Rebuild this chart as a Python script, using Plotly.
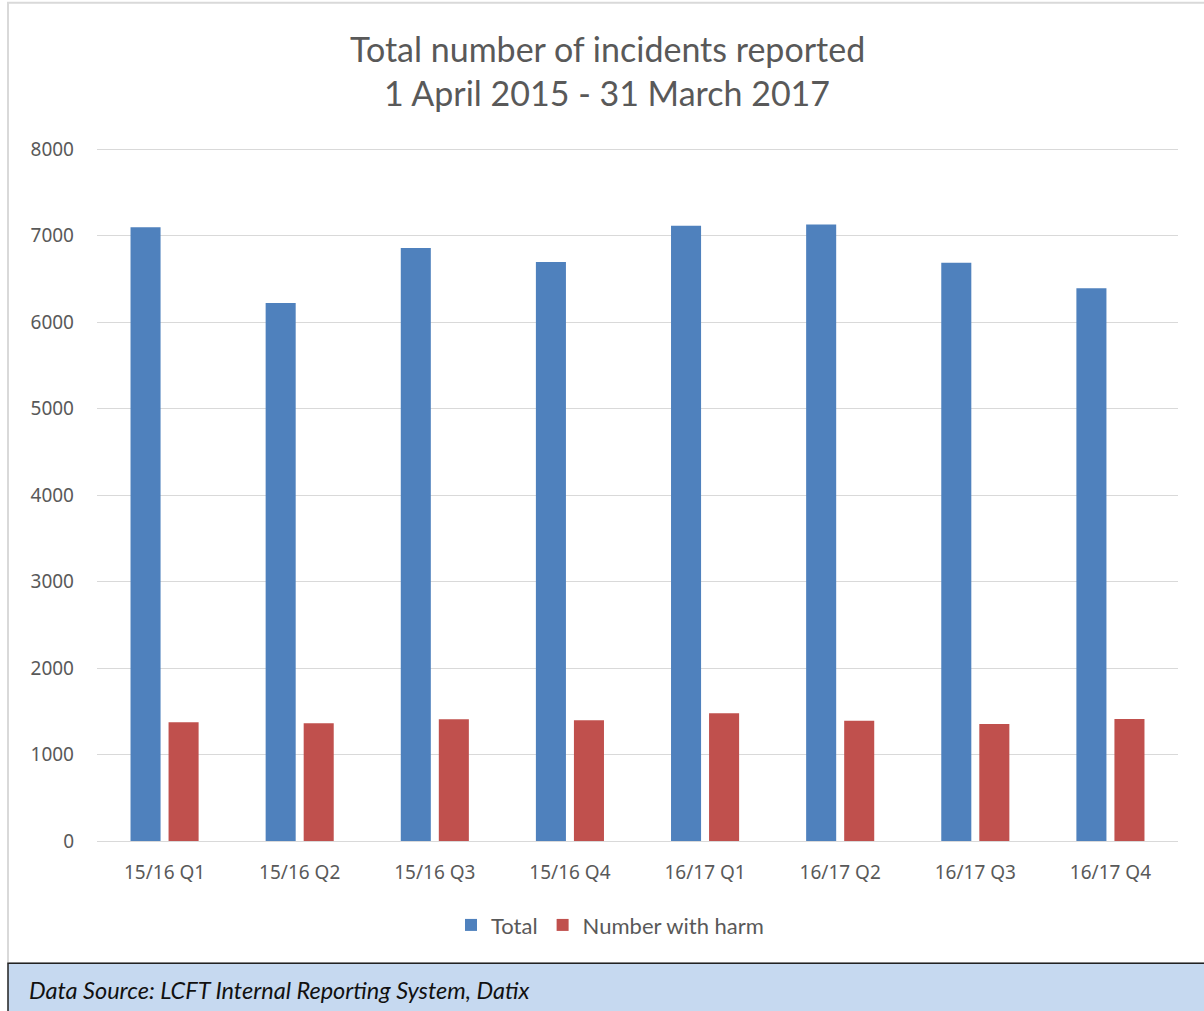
import plotly.graph_objects as go

categories = ["15/16 Q1", "15/16 Q2", "15/16 Q3", "15/16 Q4",
              "16/17 Q1", "16/17 Q2", "16/17 Q3", "16/17 Q4"]
total = [7095, 6220, 6855, 6694, 7113, 7129, 6686, 6390]
with_harm = [1372, 1360, 1407, 1395, 1476, 1391, 1353, 1410]
y_ticks = [0, 1000, 2000, 3000, 4000, 5000, 6000, 7000, 8000]

W, H = 1204, 1011
L, R, T, B = 97, 1178, 149, 841
pw, ph = R - L, B - T

def px(x):
    return (x - L) / pw

def py(y):
    return (B - y) / ph

fig = go.Figure()
fig.add_trace(go.Bar(x=categories, y=total, name="Total",
                     marker=dict(color="#4F81BD", line=dict(width=0))))
fig.add_trace(go.Bar(x=categories, y=with_harm, name="Number with harm",
                     marker=dict(color="#C0504D", line=dict(width=0))))

grey = "#595959"
fig.update_layout(
    width=W, height=H,
    margin=dict(l=L, r=W - R, t=T - 1, b=H - B, pad=0),
    paper_bgcolor="white", plot_bgcolor="white",
    barmode="group", bargap=0.437, bargroupgap=0.21,
    showlegend=True,
    legend=dict(orientation="h", x=px(610), xanchor="center",
                y=py(925), yanchor="middle",
                font=dict(family="Lato", size=22, color=grey),
                itemwidth=30, tracegroupgap=0),
    font=dict(family="Noto Sans", color=grey),
)
fig.update_yaxes(range=[0, 8012], tickvals=y_ticks,
                 ticktext=[str(v) for v in y_ticks],
                 showgrid=True, gridcolor="#D9D9D9", gridwidth=1,
                 zeroline=False, showline=False, ticks="",
                 tickfont=dict(family="Noto Sans", size=19, color=grey),
                 ticklabelstandoff=22, fixedrange=True)
fig.update_xaxes(showline=True, linecolor="#D9D9D9", linewidth=1,
                 ticks="", tickfont=dict(family="Noto Sans", size=19, color=grey),
                 ticklabelstandoff=14, fixedrange=True)

# title lines
fig.add_annotation(text="Total number of incidents reported", xref="paper", yref="paper",
                   x=px(607), y=py(50), xanchor="center", yanchor="middle",
                   showarrow=False, font=dict(family="Lato", size=34, color=grey))
fig.add_annotation(text="1 April 2015 - 31 March 2017", xref="paper", yref="paper",
                   x=px(607), y=py(94), xanchor="center", yanchor="middle",
                   showarrow=False, font=dict(family="Lato", size=34, color=grey))

# chart border
fig.add_shape(type="rect", xref="paper", yref="paper",
              x0=px(8), x1=px(1215), y0=py(963), y1=py(4),
              line=dict(color="#D9D9D9", width=2), fillcolor="rgba(0,0,0,0)", layer="below")
# footer
fig.add_shape(type="rect", xref="paper", yref="paper",
              x0=px(8), x1=px(1215), y0=py(1020), y1=py(963),
              line=dict(color="#222222", width=1.5), fillcolor="#C6D9F0", layer="below")
fig.add_annotation(text="<i>Data Source: LCFT Internal Reporting System, Datix</i>",
                   xref="paper", yref="paper", x=px(27), y=py(990),
                   xanchor="left", yanchor="middle", showarrow=False,
                   font=dict(family="Lato", size=23.5, color="#111111"))

fig.write_html("out.html", config={"displayModeBar": False})
